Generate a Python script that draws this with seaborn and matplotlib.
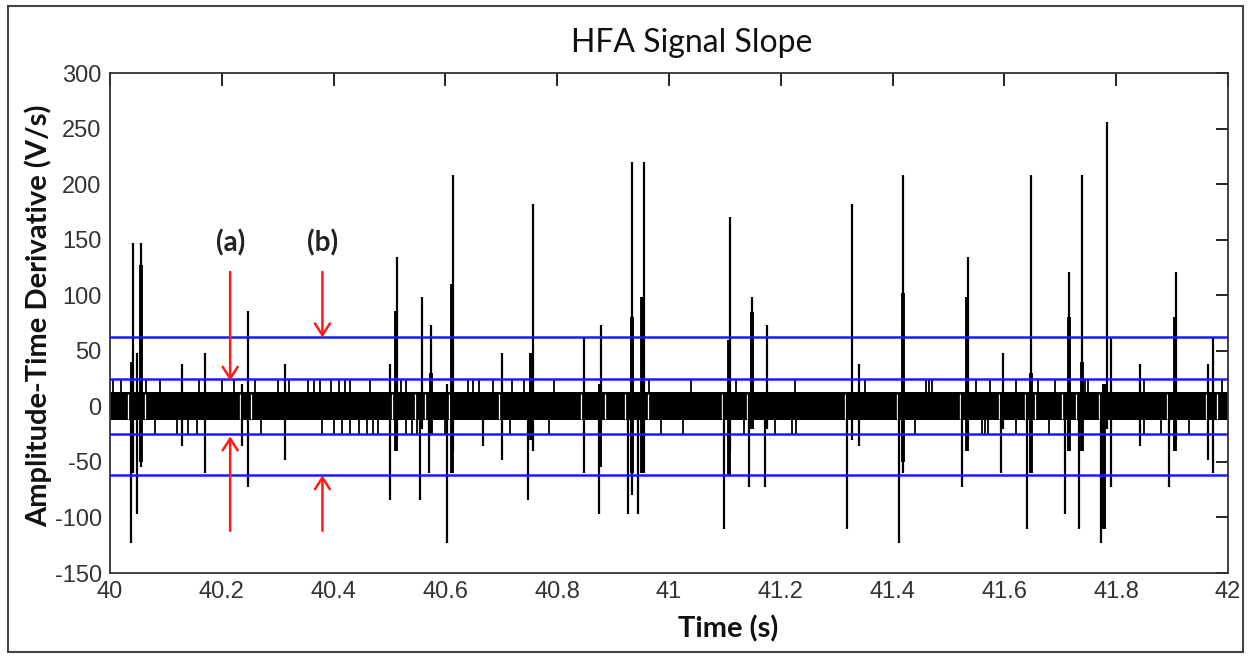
import numpy as np
import pandas as pd
import seaborn as sns
import matplotlib
matplotlib.use("Agg")
import matplotlib.pyplot as plt
from matplotlib.patches import Rectangle

# ---------------- data ----------------
title = "HFA Signal Slope"
xlabel = "Time (s)"
ylabel = "Amplitude-Time Derivative (V/s)"

x_ticks = [40, 40.2, 40.4, 40.6, 40.8, 41, 41.2, 41.4, 41.6, 41.8, 42]
x_tick_labels = ["40", "40.2", "40.4", "40.6", "40.8", "41", "41.2", "41.4", "41.6", "41.8", "42"]
y_ticks = [-150, -100, -50, 0, 50, 100, 150, 200, 250, 300]

# dense baseline activity band (V/s)
band_t = [40.0, 42.0]
band_hi = [12.5, 12.5]
band_lo = [-12.5, -12.5]

# thin gaps visible inside the band
band_gap_t = [40.033, 40.062, 40.232, 40.252, 40.505, 40.545, 40.563, 40.607, 40.695,
              40.752, 40.842, 40.885, 40.922, 40.962, 41.095, 41.14, 41.315, 41.408,
              41.52, 41.59, 41.637, 41.655, 41.703, 41.728, 41.77, 41.89, 41.96, 41.98]

# large spikes: time, max and min excursion
spike_t = [40.038, 40.042, 40.048, 40.055, 40.128, 40.170, 40.236, 40.247, 40.313,
           40.500, 40.513, 40.555, 40.559, 40.570, 40.574, 40.602, 40.613, 40.667,
           40.702, 40.748, 40.756, 40.848, 40.874, 40.878, 40.927, 40.933, 40.945,
           40.955, 41.099, 41.109, 41.143, 41.149, 41.172, 41.176, 41.319, 41.327,
           41.340, 41.412, 41.419, 41.525, 41.534, 41.594, 41.598, 41.641, 41.648,
           41.708, 41.716, 41.733, 41.739, 41.773, 41.783, 41.790, 41.843, 41.895,
           41.907, 41.965, 41.974]
spike_hi = [25, 147, 48, 147, 38, 48, 20, 86, 38,
            38, 134, 12, 98, 12, 73, 20, 208, 12,
            48, 12, 182, 62, 12, 73, 12, 220, 12,
            220, 12, 170, 12, 98, 12, 73, 12, 182,
            38, 12, 208, 12, 134, 12, 48, 12, 208,
            12, 121, 12, 208, 12, 256, 62, 38, 12,
            121, 38, 62]
spike_lo = [-123, -60, -97, -55, -36, -60, -36, -73, -48,
            -84, -30, -84, -20, -60, -20, -123, -40, -36,
            -48, -84, -40, -60, -97, -20, -97, -80, -97,
            -60, -110, -40, -73, -20, -73, -20, -110, -30,
            -36, -123, -60, -73, -30, -60, -20, -110, -40,
            -97, -30, -110, -40, -123, -20, -73, -36, -73,
            -30, -48, -60]

# dense (thick) cores of the main bursts
core_t = [40.040, 40.055, 40.512, 40.574, 40.612, 40.754, 40.876, 40.934, 40.952,
          41.108, 41.148, 41.418, 41.533, 41.647, 41.715, 41.738, 41.778, 41.905]
core_hi = [40, 127, 86, 30, 110, 48, 20, 80, 98, 60, 85, 102, 98, 30, 80, 40, 20, 80]
core_lo = [-55, -50, -40, -25, -60, -30, -55, -60, -60, -62, -20, -50, -40, -60, -40, -40, -110, -40]

# small excursions reaching the +/-25 level
up_tick_t = [40.005, 40.02, 40.065, 40.09, 40.16, 40.2, 40.222, 40.26, 40.30, 40.32,
             40.355, 40.365, 40.375, 40.395, 40.41, 40.42, 40.43, 40.465, 40.52, 40.53,
             40.64, 40.65, 40.66, 40.685, 40.72, 40.74, 40.795, 40.965, 41.04, 41.12,
             41.225, 41.35, 41.46, 41.465, 41.47, 41.55, 41.575, 41.62, 41.66, 41.69,
             41.745, 41.75, 41.85, 41.99]
down_tick_t = [40.08, 40.12, 40.14, 40.155, 40.27, 40.38, 40.40, 40.415, 40.43, 40.445,
               40.46, 40.47, 40.48, 40.53, 40.54, 40.55, 40.60, 40.715, 40.785, 40.985,
               41.025, 41.135, 41.19, 41.22, 41.228, 41.44, 41.56, 41.565, 41.57, 41.62,
               41.68, 41.85, 41.88, 41.93]
small_level = 25

# detection thresholds
thresholds = [62, 25, -25, -62]

# annotation arrows
arrow_labels = ["(a)", "(b)"]
arrow_t = [40.215, 40.38]
arrow_tip_top = [23, 62]
arrow_tip_bottom = [-27, -62]
arrow_tail_top = 121
arrow_tail_bottom = -112
label_y = 135

# ---------------- drawing ----------------
sns.set_theme(style="white")
plt.rcParams["font.family"] = ["Liberation Sans", "DejaVu Sans"]
plt.rcParams["axes.unicode_minus"] = False

fig = plt.figure(figsize=(12.5, 6.56), dpi=100)
ax = fig.add_axes([0.088, 0.1265, 0.8944, 0.7622])

# baseline band
ax.fill_between(band_t, band_lo, band_hi, color="black", lw=0, zorder=2)
ax.vlines(band_gap_t, band_lo[0] + 1, band_hi[0] - 1, color="white", lw=0.9, zorder=2.1)

# small excursions
ax.vlines(up_tick_t, band_hi[0], small_level, color="black", lw=1.3, zorder=2)
ax.vlines(down_tick_t, -small_level, band_lo[0], color="black", lw=1.3, zorder=2)

# spikes
ax.vlines(spike_t, spike_lo, spike_hi, color="black", lw=1.6, zorder=2.2)
ax.vlines(core_t, core_lo, core_hi, color="black", lw=2.8, zorder=2.2)

# thresholds via seaborn
thr_df = pd.DataFrame({
    "t": np.repeat([band_t[0], band_t[1]], len(thresholds)),
    "v": thresholds * 2,
    "level": list(range(len(thresholds))) * 2,
})
sns.lineplot(data=thr_df, x="t", y="v", units="level", estimator=None,
             color="#1a1aff", lw=1.8, ax=ax, zorder=3, legend=False)

# arrows and labels
for lab, t, tt, tb in zip(arrow_labels, arrow_t, arrow_tip_top, arrow_tip_bottom):
    ax.annotate("", xy=(t, tt), xytext=(t, arrow_tail_top),
                arrowprops=dict(arrowstyle="->,head_length=0.7,head_width=0.45",
                                color="#ff1a1a", lw=1.8, shrinkA=0, shrinkB=0), zorder=4)
    ax.annotate("", xy=(t, tb), xytext=(t, arrow_tail_bottom),
                arrowprops=dict(arrowstyle="->,head_length=0.7,head_width=0.45",
                                color="#ff1a1a", lw=1.8, shrinkA=0, shrinkB=0), zorder=4)
    ax.text(t, label_y, lab, ha="center", va="bottom", fontsize=20,
            fontweight="bold", family=["Lato", "DejaVu Sans"], color="#222222")

ax.set_xlim(40, 42)
ax.set_ylim(-150, 300)
ax.set_xticks(x_ticks)
ax.set_xticklabels(x_tick_labels)
ax.set_yticks(y_ticks)
ax.tick_params(axis="both", direction="in", length=9, width=1.2, colors="black",
               labelsize=17, top=True, right=True, pad=6)
for lbl in ax.get_xticklabels() + ax.get_yticklabels():
    lbl.set_color("#333333")
for s in ax.spines.values():
    s.set_visible(True)
    s.set_color("#333333")
    s.set_linewidth(1.3)

ax.set_xlabel(xlabel, fontsize=21, fontweight="bold", family=["Lato", "DejaVu Sans"],
              labelpad=2, color="#111111")
ax.xaxis.set_label_coords(0.553, -0.085)
ax.set_ylabel(ylabel, fontsize=21, fontweight="bold", family=["Lato", "DejaVu Sans"],
              labelpad=2, color="#111111")
ax.yaxis.set_label_coords(-0.052, 0.514)
ax.set_title(title, fontsize=23, family=["Lato", "DejaVu Sans"], color="#111111",
             x=0.52, y=1.025)

# outer frame of the figure
fig.patches.append(Rectangle((0.006, 0.006), 0.988, 0.985, transform=fig.transFigure,
                             fill=False, edgecolor="#444444", lw=1.5))

fig.savefig("out.png", dpi=100)
